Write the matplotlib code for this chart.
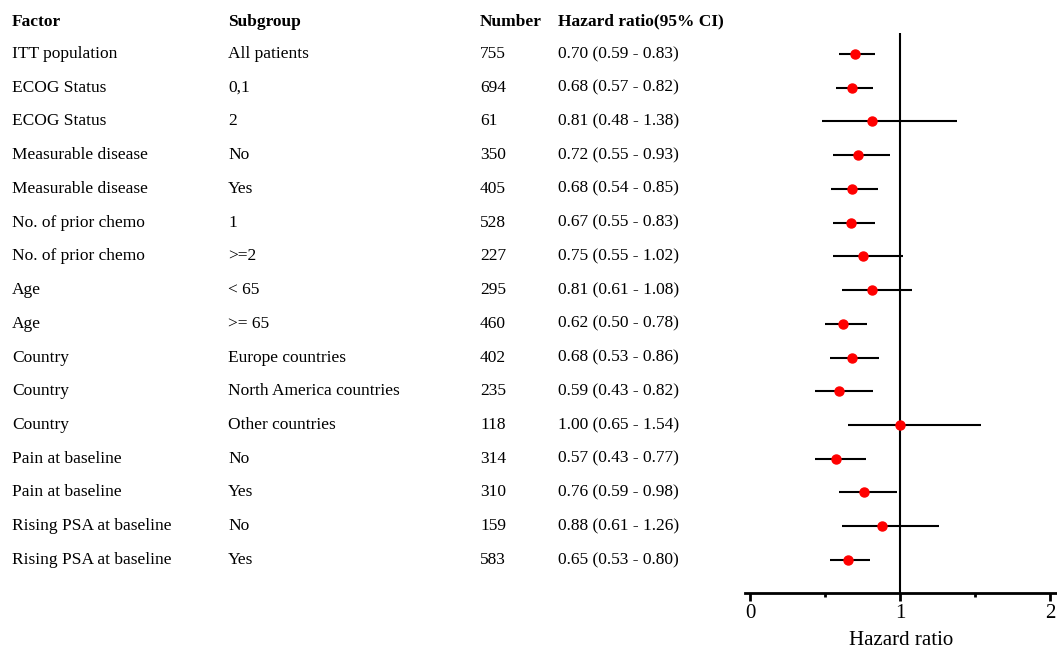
import matplotlib
matplotlib.use("Agg")
import matplotlib.pyplot as plt
import matplotlib.transforms as mtransforms

plt.rcParams['font.family'] = ['Liberation Serif', 'DejaVu Serif']

factors = ["ITT population", "ECOG Status", "ECOG Status", "Measurable disease",
           "Measurable disease", "No. of prior chemo", "No. of prior chemo", "Age", "Age",
           "Country", "Country", "Country", "Pain at baseline", "Pain at baseline",
           "Rising PSA at baseline", "Rising PSA at baseline"]
subgroups = ["All patients", "0,1", "2", "No", "Yes", "1", ">=2", "< 65", ">= 65",
             "Europe countries", "North America countries", "Other countries",
             "No", "Yes", "No", "Yes"]
numbers = [755, 694, 61, 350, 405, 528, 227, 295, 460, 402, 235, 118, 314, 310, 159, 583]
hr = [0.70, 0.68, 0.81, 0.72, 0.68, 0.67, 0.75, 0.81, 0.62, 0.68, 0.59, 1.00, 0.57, 0.76, 0.88, 0.65]
lo = [0.59, 0.57, 0.48, 0.55, 0.54, 0.55, 0.55, 0.61, 0.50, 0.53, 0.43, 0.65, 0.43, 0.59, 0.61, 0.53]
hi = [0.83, 0.82, 1.38, 0.93, 0.85, 0.83, 1.02, 1.08, 0.78, 0.86, 0.82, 1.54, 0.77, 0.98, 1.26, 0.80]

W, H = 1057, 663
fig = plt.figure(figsize=(W / 100, H / 100), dpi=100)
ax = fig.add_axes([745 / W, 1 - 593 / H, 312 / W, (593 - 33) / H])

rows = list(range(len(hr)))
for i in rows:
    ax.plot([lo[i], hi[i]], [i, i], color='black', lw=1.5, solid_capstyle='butt', zorder=2)
ax.plot(hr, rows, 'o', color='red', markersize=6.5, zorder=3)
ax.plot([1, 1], [-0.62, 15.98], color='black', lw=1.5, zorder=1)

ax.set_xlim(-5 / 150, 2 + 7 / 150)
ax.set_ylim(15.98, -0.62)
for s in ['top', 'right', 'left']:
    ax.spines[s].set_visible(False)
ax.spines['bottom'].set_linewidth(2)
ax.set_yticks([])
ax.set_xticks([0, 1, 2])
ax.set_xticks([0.5, 1.5], minor=True)
ax.tick_params(axis='x', which='major', length=6, width=2, labelsize=15, pad=2)
ax.tick_params(axis='x', which='minor', length=3, width=2)
ax.set_xlabel("Hazard ratio", fontsize=15, labelpad=6)

tr = mtransforms.blended_transform_factory(fig.transFigure, ax.transData)
cols = [12 / W, 228 / W, 480 / W, 558 / W]
hy = -0.95
heads = ["Factor", "Subgroup", "Number", "Hazard ratio(95% CI)"]
for x, t in zip(cols, heads):
    fig.text(x, hy, t, transform=tr, fontsize=12.5, fontweight='bold', va='center')
for i in rows:
    vals = [factors[i], subgroups[i], str(numbers[i]),
            "%.2f (%.2f - %.2f)" % (hr[i], lo[i], hi[i])]
    for x, t in zip(cols, vals):
        fig.text(x, i, t, transform=tr, fontsize=12.5, va='center')

fig.savefig("out.png", dpi=100)
